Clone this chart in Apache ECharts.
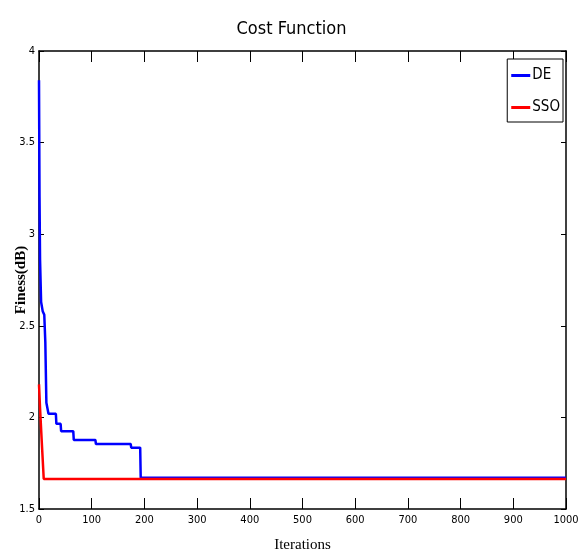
<!DOCTYPE html>
<html>
<head>
<meta charset="utf-8">
<script src="https://cdn.jsdelivr.net/npm/echarts@6/dist/echarts.min.js"></script>
<style>
html,body{margin:0;padding:0;background:#fff;}
#chart{width:583px;height:555px;}
</style>
</head>
<body>
<div id="chart"></div>
<script>
var titleText = 'Cost Function';
var seriesNames = ['DE', 'SSO'];
var deIter = [0, 1, 2, 4, 6, 7, 10, 12, 14, 14, 17, 18, 32, 33, 41, 42, 65, 66, 107, 108, 174, 175, 192, 193, 1000];
var deVal  = [3.84, 3.2, 2.86, 2.63, 2.62, 2.58, 2.56, 2.41, 2.40, 2.08, 2.07, 2.02, 2.02, 1.965, 1.965, 1.925, 1.925, 1.877, 1.877, 1.855, 1.855, 1.835, 1.835, 1.671, 1.671];
var ssoIter = [0, 2, 5, 9, 1000];
var ssoVal  = [2.18, 2.05, 1.88, 1.664, 1.664];
var xTicks = [0, 100, 200, 300, 400, 500, 600, 700, 800, 900, 1000];
var yTicks = [1.5, 2, 2.5, 3, 3.5, 4];

function pairs(xs, ys) { return xs.map(function (x, i) { return [x, ys[i]]; }); }

var narrow = '"DejaVu Sans Condensed", "Liberation Sans Narrow", "Liberation Sans", Arial, sans-serif';
var chart = echarts.init(document.getElementById('chart'), null, {renderer: 'canvas'});
var tickX = {show: true, inside: true, length: 11, lineStyle: {color: '#000', width: 1}};
var tickY = {show: true, inside: true, length: 5, lineStyle: {color: '#000', width: 1}};
var lineBlack = {show: true, onZero: false, lineStyle: {color: '#000', width: 1.5}};

chart.setOption({
  animation: false,
  backgroundColor: '#fff',
  title: {
    text: titleText, left: 'center', top: 15,
    textStyle: {fontFamily: narrow, fontSize: 18, fontWeight: 'normal', color: '#000'}
  },
  legend: {
    orient: 'vertical', right: 20, top: 59,
    data: seriesNames,
    backgroundColor: '#fff', borderColor: '#000', borderWidth: 1,
    padding: [9, 3, 7, 4], itemGap: 17, itemWidth: 19, itemHeight: 3,
    icon: 'rect',
    textStyle: {fontFamily: narrow, fontSize: 15, color: '#000', padding: [0, 0, 0, -3]}
  },
  grid: {left: 39, right: 17, top: 51, bottom: 46, containLabel: false, outerBoundsMode: 'none'},
  xAxis: [{
    type: 'value', min: 0, max: 1000, interval: 100,
    name: 'Iterations', nameLocation: 'middle', nameGap: 29, nameMoveOverlap: false,
    nameTextStyle: {fontFamily: '"Liberation Serif", "Times New Roman", serif', fontSize: 15, color: '#000'},
    axisLine: lineBlack, axisTick: tickX, splitLine: {show: false},
    axisLabel: {fontFamily: narrow, fontSize: 11, color: '#000', margin: 6,
      formatter: function (v) { return xTicks.indexOf(v) >= 0 ? String(v) : ''; }}
  }, {
    type: 'value', position: 'top', min: 0, max: 1000, interval: 100,
    axisLine: lineBlack, axisTick: tickX, splitLine: {show: false}, axisLabel: {show: false}
  }],
  yAxis: [{
    type: 'value', min: 1.5, max: 4, interval: 0.5,
    name: 'Finess(dB)', nameLocation: 'middle', nameGap: 10, nameMoveOverlap: false,
    nameTextStyle: {fontFamily: '"Liberation Serif", "Times New Roman", serif', fontSize: 15, fontWeight: 'bold', color: '#000'},
    axisLine: lineBlack, axisTick: tickY, splitLine: {show: false},
    axisLabel: {fontFamily: narrow, fontSize: 11, color: '#000', margin: 4,
      formatter: function (v) { return yTicks.indexOf(v) >= 0 ? String(v) : ''; }}
  }, {
    type: 'value', position: 'right', min: 1.5, max: 4, interval: 0.5,
    axisLine: lineBlack, axisTick: tickY, splitLine: {show: false}, axisLabel: {show: false}
  }],
  series: [{
    name: seriesNames[0], type: 'line', data: pairs(deIter, deVal),
    showSymbol: false, symbol: 'none', color: '#0000ff',
    lineStyle: {color: '#0000ff', width: 2.5}
  }, {
    name: seriesNames[1], type: 'line', data: pairs(ssoIter, ssoVal),
    showSymbol: false, symbol: 'none', color: '#ff0000',
    lineStyle: {color: '#ff0000', width: 2.5}
  }]
});
</script>
</body>
</html>
